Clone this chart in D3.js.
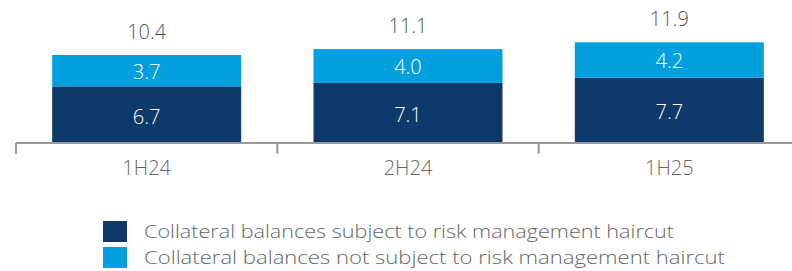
<!DOCTYPE html>
<html><head><meta charset="utf-8">
<script src="https://cdn.jsdelivr.net/npm/d3@7"></script>
<style>body{margin:0;background:#fff}svg{display:block}text{font-family:"Open Sans",sans-serif;font-weight:300}</style>
</head><body><svg id="c" width="792" height="271"></svg>
<script>
const categories = ["1H24", "2H24", "1H25"];
const subjectValues = [6.7, 7.1, 7.7];
const notSubjectValues = [3.7, 4.0, 4.2];
const totals = [10.4, 11.1, 11.9];
const seriesNames = ["Collateral balances subject to risk management haircut", "Collateral balances not subject to risk management haircut"];
const colors = ["#0d3a6b", "#00a0df"];

const svg = d3.select("#c");
const x = d3.scaleBand().domain(categories).range([16, 800]).paddingInner(0).paddingOuter(0);
const barW = 189;
const y = d3.scaleLinear().domain([0, 10.4]).range([143, 55]);

const data = categories.map((c, i) => ({c, a: subjectValues[i], b: notSubjectValues[i], t: totals[i]}));
const g = svg.append("g");
data.forEach(d => {
  const cx = x(d.c) + x.bandwidth() / 2;
  g.append("rect").attr("x", cx - barW / 2).attr("width", barW)
    .attr("y", y(d.a)).attr("height", y(0) - y(d.a)).attr("fill", colors[0]);
  g.append("rect").attr("x", cx - barW / 2).attr("width", barW)
    .attr("y", y(d.a + d.b)).attr("height", y(d.a) - y(d.a + d.b)).attr("fill", colors[1]);
  g.append("text").attr("x", cx).attr("y", (y(0) + y(d.a)) / 2 + 9).attr("text-anchor", "middle")
    .attr("fill", "#fff").attr("font-size", 20).text(d.a.toFixed(1));
  g.append("text").attr("x", cx).attr("y", (y(d.a) + y(d.a + d.b)) / 2 + 8).attr("text-anchor", "middle")
    .attr("fill", "#fff").attr("font-size", 20).text(d.b.toFixed(1));
  g.append("text").attr("x", cx).attr("y", y(d.t) - 16).attr("text-anchor", "middle")
    .attr("fill", "#555").attr("font-size", 20).text(d.t.toFixed(1));
});

const axis = svg.append("g").attr("transform", "translate(0,143)")
  .call(d3.axisBottom(x).tickSize(0).tickPadding(22));
axis.select(".domain").remove();
axis.append("line").attr("x1", 16).attr("x2", 792).attr("stroke", "#999").attr("stroke-width", 2);
axis.selectAll(".tick text").attr("font-size", 20).attr("fill", "#666")
  .attr("font-family", "Open Sans, sans-serif").attr("font-weight", 300).attr("dy", "0.5em");
categories.forEach(c => {
  axis.append("line").attr("x1", x(c)).attr("x2", x(c)).attr("y1", 0).attr("y2", 11)
    .attr("stroke", "#999").attr("stroke-width", 2);
});

const leg = svg.append("g");
const legW = [530, 581];
seriesNames.forEach((n, i) => {
  leg.append("rect").attr("x", 103).attr("y", 221 + i * 26).attr("width", 24).attr("height", 21).attr("fill", colors[i]);
  leg.append("text").attr("x", 144).attr("y", 238 + i * 26).attr("font-size", 19).attr("fill", "#666")
    .attr("textLength", legW[i]).attr("lengthAdjust", "spacingAndGlyphs").text(n);
});
</script></body></html>
